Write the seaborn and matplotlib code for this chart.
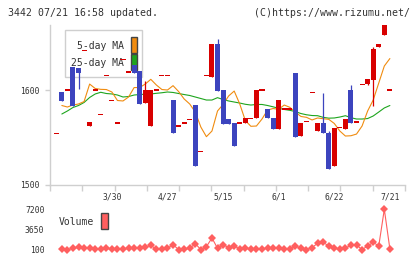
import numpy as np
import pandas as pd
import matplotlib
matplotlib.use("Agg")
import matplotlib.pyplot as plt
import seaborn as sns
from matplotlib.patches import Rectangle

# ---------------- data ----------------
opens = [1554, 1598, 1600, 1624, 1623, 1642, 1562, 1600, 1574, 1615,
         1589, 1565, 1632, 1619, 1626, 1620, 1586, 1562, 1600, 1615,
         1615, 1589, 1562, 1565, 1569, 1584, 1535, 1615, 1614, 1649,
         1600, 1569, 1565, 1565, 1565, 1570, 1570, 1600, 1580, 1570,
         1559, 1580, 1580, 1618, 1551, 1567, 1597.5, 1557, 1565, 1554.5,
         1520, 1560, 1559, 1600, 1566, 1606, 1606, 1611, 1645, 1658,
         1600]
closes = [1554, 1588, 1600, 1583, 1618, 1642, 1566, 1600, 1574, 1615,
          1589, 1565, 1632, 1619, 1618, 1585, 1600, 1600, 1600, 1615,
          1615, 1554, 1562, 1565, 1569, 1520, 1535, 1615, 1649, 1599,
          1564, 1564, 1541, 1565, 1570, 1570, 1600, 1600, 1570, 1559,
          1589, 1580, 1580, 1550, 1565, 1567, 1597.5, 1565, 1554, 1516,
          1560, 1560, 1569, 1565, 1566, 1606, 1612, 1643, 1649, 1669,
          1600]
# wick extremes (None = no visible wick)
highs = [None] * 61
lows = [None] * 61
highs[4], lows[4] = 1623, 1601
highs[16] = 1609.5
highs[29] = 1654
highs[48] = 1597
highs[49] = 1557
highs[53] = 1605
lows[56] = 1605
highs[57], lows[57] = 1645, 1583

ma5 = [np.nan, 1583.6, 1582.0, 1584.1, 1585.2, 1587.8, 1606.3, 1601.6, 1600.7, 1600.5,
       1597.9, 1588.9, 1588.4, 1592.6, 1602.6, 1602.6, 1606.3, 1611.3, 1605.3, 1600.5,
       1600.0, 1604.6, 1598.4, 1590.5, 1585.2, 1576.7, 1560.8, 1550.6, 1556.6, 1577.8,
       1584.7, 1593.7, 1598.9, 1585.2, 1567.7, 1561.6, 1561.9, 1569.3, 1578.8, 1580.4,
       1579.6, 1584.1, 1581.7, 1576.7, 1572.0, 1571.1, 1568.3, 1570.4, 1569.6, 1569.0,
       1564.6, 1556.6, 1551.3, 1551.6, 1553.4, 1561.9, 1577.8, 1589.4, 1607.4, 1625.4,
       1633.3]
ma25 = [np.nan, 1574.6, 1577.8, 1581.5, 1583.6, 1586.8, 1592.1, 1595.8, 1597.6, 1596.3,
        1595.8, 1594.7, 1592.6, 1593.1, 1594.7, 1595.2, 1595.6, 1595.8, 1596.5, 1597.1,
        1597.9, 1597.4, 1596.3, 1595.2, 1594.2, 1592.6, 1591.0, 1589.4, 1589.4, 1591.9,
        1589.9, 1588.4, 1587.3, 1586.2, 1584.9, 1584.1, 1584.7, 1584.7, 1583.6, 1582.2,
        1580.6, 1579.4, 1578.5, 1577.2, 1575.1, 1573.8, 1573.0, 1572.8, 1571.1, 1570.2,
        1570.4, 1571.4, 1572.8, 1570.7, 1569.3, 1569.3, 1569.8, 1572.5, 1576.7, 1581.0,
        1583.6]
volume = [np.nan, 100, 30, 280, 455, 280, 280, 100, 100, 280,
          100, 100, 100, 280, 280, 280, 455, 810, 100, 100,
          280, 930, 50, 100, 280, 1100, 50, 570, 2110, 280,
          930, 400, 690, 160, 280, 160, 160, 160, 280, 400,
          280, 100, 100, 690, 280, 50, 400, 1170, 1340, 690,
          280, 160, 280, 870, 870, 50, 690, 1340, 690, 7200,
          160]
date_labels = ["3/30", "4/27", "5/15", "6/1", "6/22", "7/21"]
date_idx = [10, 20, 30, 40, 50, 60]
price_ticks = [1500, 1600]
vol_ticks = [100, 3650, 7200]
title_left = "3442 07/21 16:58 updated."
title_right = "(C)https://www.rizumu.net/"

# ---------------- style ----------------
sns.set_theme(style="white")
plt.rcParams["font.family"] = ["DejaVu Sans Mono", "DejaVu Sans"]

RED = "#d80000"
BLUE = "#3c44be"
ORANGE = "#f08c10"
GREEN = "#1ea51e"
GRID = "#cfcfcf"
TXT = "#333333"
VOL = "#ff5f5f"

W, H = 420, 259
fig = plt.figure(figsize=(W / 100, H / 100), dpi=100)
fig.patch.set_facecolor("white")


def fx(x):
    return x / W


def fy(y):
    return 1 - y / H


XL = (-1.13, 62.72)

# ---------------- price panel ----------------
ax = fig.add_axes([fx(50), fy(184.5), fx(405) - fx(50), fy(25) - fy(184.5)])
ax.set_facecolor("none")
n = len(opens)
x = np.arange(n)
o = np.array(opens, float)
c = np.array(closes, float)
up = c >= o
cols = [RED if u else BLUE for u in up]
lo_b = np.minimum(o, c)
hi_b = np.maximum(o, c)
hgt = hi_b - lo_b
mind = 1.4
bott = np.where(hgt < mind, lo_b - mind / 2, lo_b)
hgt = np.where(hgt < mind, mind, hgt)

wl = [lows[i] if lows[i] is not None else lo_b[i] for i in range(n)]
wh = [highs[i] if highs[i] is not None else hi_b[i] for i in range(n)]
ax.vlines(x, wl, wh, colors=cols, lw=0.9, zorder=3)
ax.bar(x, hgt, bottom=bott, width=0.9, color=cols, linewidth=0, zorder=4)

df = pd.DataFrame({"x": x, "ma5": ma5, "ma25": ma25})
sns.lineplot(data=df, x="x", y="ma25", ax=ax, color=GREEN, lw=0.8, zorder=2)
sns.lineplot(data=df, x="x", y="ma5", ax=ax, color=ORANGE, lw=0.8, zorder=2)

ax.set_xlim(*XL)
ax.set_ylim(1500, 1668.8)
ax.set_xlabel("")
ax.set_ylabel("")
for s in ["top", "right"]:
    ax.spines[s].set_visible(False)
for s in ["left", "bottom"]:
    ax.spines[s].set_color(GRID)
    ax.spines[s].set_linewidth(1)

ax.set_xticks(np.linspace(XL[0], XL[1], 12))
ax.set_xticklabels([])
ax.set_xticks(date_idx, minor=True)
ax.set_xticklabels(date_labels, minor=True)
ax.tick_params(axis="x", which="major", direction="out", length=4.4, width=1,
               color=GRID, bottom=True)
ax.tick_params(axis="x", which="minor", length=0, pad=5.5, labelsize=5.8,
               labelcolor=TXT, bottom=True)
ax.set_yticks(price_ticks)
ax.set_yticklabels([str(t) for t in price_ticks])
ax.tick_params(axis="y", direction="out", length=3.6, width=1, color=GRID,
               pad=4, labelsize=5.8, labelcolor=TXT, left=True)

# legend box for MAs
ax.add_patch(Rectangle((fx(65), fy(77)), fx(142) - fx(65), fy(30) - fy(77),
                       transform=fig.transFigure, facecolor="white",
                       edgecolor=GRID, lw=1, zorder=1, clip_on=False))
ax.text(fx(124), fy(46), "5-day MA", transform=fig.transFigure, ha="right",
        va="center", fontsize=7, color=TXT, zorder=1.5)
ax.text(fx(124), fy(62.5), "25-day MA", transform=fig.transFigure, ha="right",
        va="center", fontsize=7, color=TXT, zorder=1.5)
ax.add_patch(Rectangle((fx(131), fy(52.7)), fx(137.3) - fx(131), fy(36.7) - fy(52.7),
                       transform=fig.transFigure, facecolor=ORANGE,
                       edgecolor="#444444", lw=1, zorder=1.5, clip_on=False))
ax.add_patch(Rectangle((fx(131), fy(70)), fx(137.3) - fx(131), fy(54) - fy(70),
                       transform=fig.transFigure, facecolor=GREEN,
                       edgecolor="#444444", lw=1, zorder=1.5, clip_on=False))

# ---------------- volume panel ----------------
ax2 = fig.add_axes([fx(50), fy(255), fx(405) - fx(50), fy(203) - fy(255)])
ax2.set_facecolor("none")
dv = pd.DataFrame({"x": x, "v": volume}).dropna()
sns.lineplot(data=dv, x="x", y="v", ax=ax2, color=VOL, lw=0.8, marker="D",
             markersize=4, markeredgewidth=0)
ax2.set_xlim(*XL)
ax2.set_ylim(-912, 8318)
for s in ax2.spines.values():
    s.set_visible(False)
ax2.set_xticks([])
ax2.set_xlabel("")
ax2.set_ylabel("")
ax2.set_yticks(vol_ticks)
ax2.set_yticklabels([str(t) for t in vol_ticks])
ax2.tick_params(axis="y", length=0, pad=4, labelsize=5.8, labelcolor=TXT, left=True)

fig.text(fx(58.3), fy(222.3), "Volume", ha="left", va="center", fontsize=7, color=TXT)
fig.patches.append(Rectangle((fx(101), fy(228.7)), fx(107.7) - fx(101),
                             fy(213.3) - fy(228.7), transform=fig.transFigure,
                             facecolor=VOL, edgecolor="#444444", lw=1, figure=fig))

# ---------------- header ----------------
fig.text(fx(8), fy(13), title_left, ha="left", va="center", fontsize=7.1, color=TXT)
fig.text(fx(409.5), fy(13), title_right, ha="right", va="center", fontsize=7.1, color=TXT)

fig.savefig("out.png", dpi=100, facecolor="white")
